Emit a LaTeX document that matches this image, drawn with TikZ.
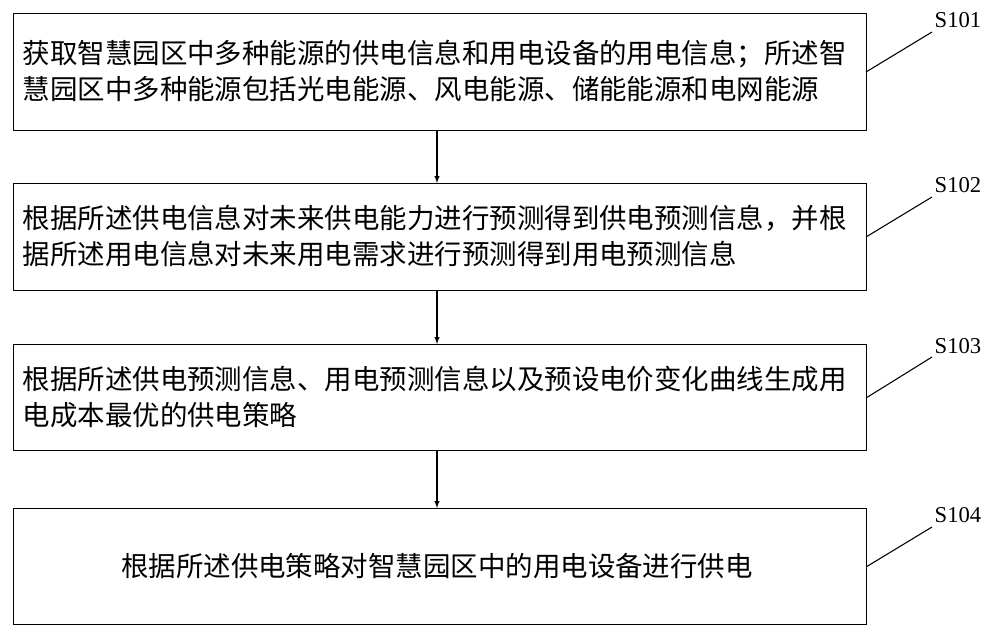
\documentclass[tikz,border=0pt]{standalone}
\usepackage{fontspec}
\newfontfamily\cjk{Noto Sans CJK SC}
\setmainfont{Liberation Serif}
\begin{document}
\begin{tikzpicture}[x=0.75pt,y=-0.75pt,
  stepbox/.style={draw,line width=1pt,minimum width=853*0.75pt,anchor=north west,inner sep=0pt},
  txt/.style={font=\cjk\fontsize{20.6}{26.5}\selectfont,align=left,anchor=west},
  lbl/.style={font=\fontsize{17}{20}\selectfont},
  arr/.style={-latex,line width=0.8pt}]
\useasboundingbox (0,0) rectangle (1000,632);
\node[stepbox,minimum height=117*0.75pt] (b1) at (13,13) {};
\node[stepbox,minimum height=107*0.75pt] (b2) at (13,183) {};
\node[stepbox,minimum height=106*0.75pt] (b3) at (13,344) {};
\node[stepbox,minimum height=116*0.75pt] (b4) at (13,508) {};
\node[txt] (t1) at (18,71) {获取智慧园区中多种能源的供电信息和用电设备的用电信息；所述智\\慧园区中多种能源包括光电能源、风电能源、储能能源和电网能源};
\node[txt] (t2) at (18,236) {根据所述供电信息对未来供电能力进行预测得到供电预测信息，并根\\据所述用电信息对未来用电需求进行预测得到用电预测信息};
\node[txt] (t3) at (18,397) {根据所述供电预测信息、用电预测信息以及预设电价变化曲线生成用\\电成本最优的供电策略};
\node[font=\cjk\fontsize{20.6}{26}\selectfont] (t4) at (437,566) {根据所述供电策略对智慧园区中的用电设备进行供电};
\draw[arr] (437,130) -- (437,183);
\draw[arr] (437,290) -- (437,344);
\draw[arr] (437,450) -- (437,508);
\coordinate (c1) at (932,32); \coordinate (c2) at (932,197);
\coordinate (c3) at (932,357); \coordinate (c4) at (932,527);
\draw[line width=0.8pt] (866,72) -- (c1);
\draw[line width=0.8pt] (866,237) -- (c2);
\draw[line width=0.8pt] (866,398) -- (c3);
\draw[line width=0.8pt] (866,567) -- (c4);
\node[lbl] (l1) at (958,20) {S101};
\node[lbl] (l2) at (958,185) {S102};
\node[lbl] (l3) at (958,346) {S103};
\node[lbl] (l4) at (958,515) {S104};
\end{tikzpicture}
\end{document}
